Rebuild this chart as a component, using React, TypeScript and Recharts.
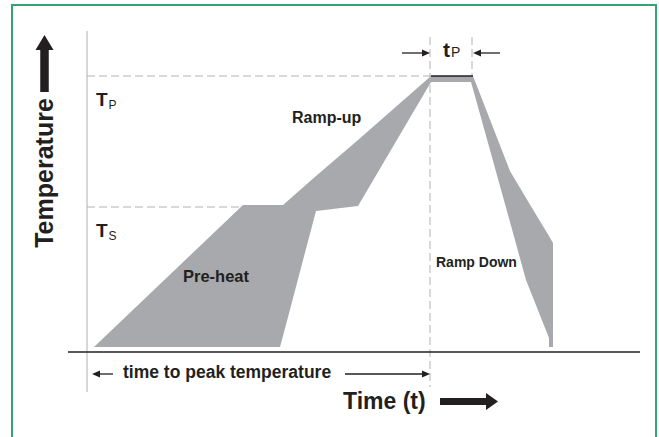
import React from 'react';
import { ComposedChart, Area, XAxis, YAxis, ReferenceLine, ReferenceDot } from 'recharts';

const FONT = '"Liberation Sans", Arial, Helvetica, sans-serif';
const INK = '#231f20';
const BAND = '#a7a9ac';
const DASH = '#b3b3b3';

// Reflow profile window: time (x) and the low / high temperature bounds at each time
const timePoints = [7, 156, 193, 196, 229, 271, 344, 384, 386, 423, 439, 462, 462, 466];
const tempLow = [5, 5, 5, 16, 141, 146, 270, 270, 263, 130, 72, 14, 5, 5];
const tempHigh = [5, 147, 147, 147, 176, 212, 276, 276, 276, 181, 154, 116, 116, 109];

// Reference levels / times
const T_P = 276;
const T_S = 145;
const soakStart = 156;
const tpStart = 344;
const tpEnd = 386;
const axisTop = 321;
const axisBottom = -40;
const timeAxisStart = -19;
const timeAxisEnd = 553;
const dashTop = 315;

const data = timePoints.map((t, i) => ({ t, range: [tempLow[i], tempHigh[i]] }));

type Render = (x: number, y: number) => React.ReactNode;

function note(key: string, x: number, y: number, render: Render) {
  return (
    <ReferenceDot
      key={key}
      x={x}
      y={y}
      r={0}
      fill="none"
      stroke="none"
      ifOverflow="visible"
      label={(p: any) => {
        const vb = (p && p.viewBox) || {};
        return <g>{render(vb.x ?? 0, vb.y ?? 0)}</g>;
      }}
    />
  );
}

const thinArrow = (x: number, y: number, len: number, dir: 1 | -1) => {
  // (x,y) is the tip, dir=1 points right, dir=-1 points left
  const tail = x - dir * len;
  const hb = x - dir * 8;
  return (
    <g>
      <line x1={tail} y1={y} x2={hb} y2={y} stroke={INK} strokeWidth={1.3} />
      <path d={`M${x},${y} L${hb},${y - 3.5} L${hb},${y + 3.5} Z`} fill={INK} />
    </g>
  );
};

const txt = (x: number, y: number, s: string, size: number, extra: any = {}) => (
  <text x={x} y={y} fontFamily={FONT} fontSize={size} fontWeight="bold" fill={INK} {...extra}>
    {s}
  </text>
);

const sub = (x: number, y: number, main: string, small: string, size: number, subSize: number, dy: number) => (
  <text x={x} y={y} fontFamily={FONT} fill={INK}>
    <tspan fontSize={size} fontWeight="bold">{main}</tspan>
    <tspan fontSize={subSize} fontWeight="normal" dx={1} dy={dy}>{small}</tspan>
  </text>
);

export default function App() {
  return (
    <div style={{ position: 'absolute', left: 0, top: 0, width: 659, height: 437, overflow: 'hidden', background: '#fff' }}>
      <ComposedChart width={659} height={437} data={data} margin={{ top: 0, right: 0, bottom: 0, left: 0 }}>
        <XAxis type="number" dataKey="t" domain={[-87, 572]} hide allowDataOverflow height={0} />
        <YAxis type="number" domain={[-85, 352]} hide allowDataOverflow width={0} />

        <ReferenceLine segment={[{ x: 0, y: axisTop }, { x: 0, y: axisBottom }]} stroke="#b0b0b0" strokeWidth={1} ifOverflow="visible" />
        <ReferenceLine segment={[{ x: 0, y: T_P }, { x: tpStart, y: T_P }]} stroke={DASH} strokeDasharray="8 4" ifOverflow="visible" />
        <ReferenceLine segment={[{ x: 0, y: T_S }, { x: soakStart, y: T_S }]} stroke={DASH} strokeDasharray="8 4" ifOverflow="visible" />
        <ReferenceLine segment={[{ x: tpStart - 1, y: dashTop }, { x: tpStart - 1, y: axisBottom + 5 }]} stroke={DASH} strokeDasharray="8 4" ifOverflow="visible" />
        <ReferenceLine segment={[{ x: tpEnd - 1, y: dashTop }, { x: tpEnd - 1, y: T_P }]} stroke={DASH} strokeDasharray="8 4" ifOverflow="visible" />

        <Area
          type="linear"
          dataKey="range"
          fill={BAND}
          fillOpacity={1}
          stroke="none"
          dot={false}
          activeDot={false}
          isAnimationActive={false}
        />

        <ReferenceLine segment={[{ x: tpStart, y: T_P }, { x: tpEnd, y: T_P }]} stroke={INK} strokeWidth={1.6} ifOverflow="visible" />
        <ReferenceLine segment={[{ x: timeAxisStart, y: 0 }, { x: timeAxisEnd, y: 0 }]} stroke={INK} strokeWidth={1.4} ifOverflow="visible" />

        {note('temp', -34, 179, (x, y) => txt(x, y, 'Temperature', 25, { textAnchor: 'middle', transform: `rotate(-90 ${x} ${y})` }))}
        {note('uparrow', -42.5, 317, (x, y) => (
          <path d={`M${x},${y} L${x + 9},${y + 15} L${x + 4.25},${y + 15} L${x + 4.25},${y + 57} L${x - 4.25},${y + 57} L${x - 4.25},${y + 15} L${x - 9},${y + 15} Z`} fill={INK} />
        ))}
        {note('tp', 9, 246, (x, y) => sub(x, y, 'T', 'P', 19, 12, 3))}
        {note('ts', 9, 115, (x, y) => sub(x, y, 'T', 'S', 19, 12, 3))}
        {note('tpw', 356, 295, (x, y) => sub(x, y, 't', 'P', 21, 14, 0))}
        {note('tparL', tpStart - 1, 299, (x, y) => thinArrow(x, y, 28, 1))}
        {note('tparR', tpEnd, 299, (x, y) => thinArrow(x, y, 27, -1))}
        {note('rampup', 205, 229, (x, y) => txt(x, y, 'Ramp-up', 16))}
        {note('preheat', 96, 70, (x, y) => txt(x, y, 'Pre-heat', 16.5))}
        {note('rampdown', 349, 85, (x, y) => txt(x, y, 'Ramp Down', 14))}
        {note('ttpL', 5, -22, (x, y) => thinArrow(x, y, 21, -1))}
        {note('ttpR', tpStart - 1, -22, (x, y) => thinArrow(x, y, 85, 1))}
        {note('ttp', 36, -26, (x, y) => txt(x, y, 'time to peak temperature', 17.5))}
        {note('time', 256, -57, (x, y) => txt(x, y, 'Time (t)', 23))}
        {note('timearrow', 411, -49.5, (x, y) => (
          <path d={`M${x},${y} L${x - 12},${y - 8.5} L${x - 12},${y - 3.5} L${x - 58},${y - 3.5} L${x - 58},${y + 3.5} L${x - 12},${y + 3.5} L${x - 12},${y + 8.5} Z`} fill={INK} />
        ))}
      </ComposedChart>
      <div style={{ position: 'absolute', left: 11, top: 4, width: 642, height: 460, border: '2px solid #33a474', pointerEvents: 'none' }} />
    </div>
  );
}
